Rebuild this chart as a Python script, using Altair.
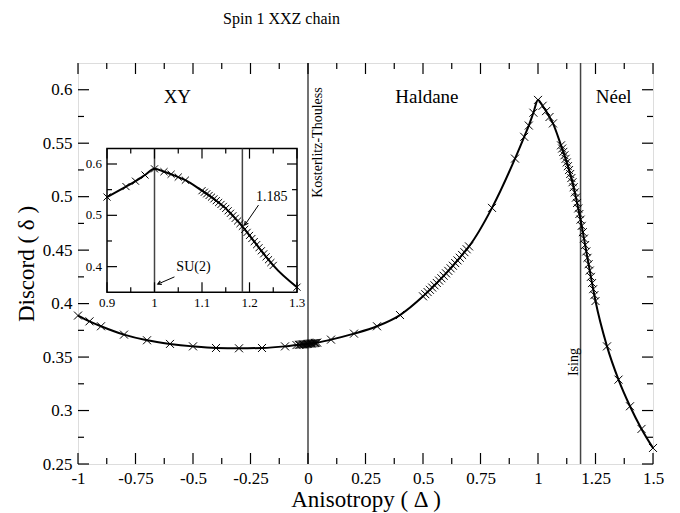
import altair as alt
import pandas as pd

FONT = "Liberation Serif"
TITLE = "Spin 1 XXZ chain"

# ---------------- data ----------------
anis = [-1.0, -0.95, -0.9, -0.8, -0.7, -0.6, -0.5, -0.4, -0.3, -0.2, -0.1, -0.05,
        -0.04, -0.035, -0.03, -0.025, -0.02, -0.015, -0.01, -0.005, 0.0,
        0.005, 0.01, 0.015, 0.02, 0.025, 0.03, 0.035, 0.04,
        0.1, 0.2, 0.3, 0.4, 0.5,
        0.51, 0.52, 0.53, 0.54, 0.55, 0.56, 0.57, 0.58, 0.59, 0.6,
        0.61, 0.62, 0.63, 0.64, 0.65, 0.66, 0.67, 0.68, 0.69, 0.7,
        0.8, 0.9, 0.94, 0.96, 0.98, 1.0, 1.02, 1.035, 1.05, 1.065,
        1.1, 1.105, 1.11, 1.115, 1.12, 1.125, 1.13, 1.135, 1.14, 1.145,
        1.15, 1.155, 1.16, 1.165, 1.17, 1.175, 1.18, 1.185, 1.19, 1.195,
        1.2, 1.205, 1.21, 1.215, 1.22, 1.225, 1.23, 1.235, 1.24, 1.245, 1.25,
        1.3, 1.35, 1.4, 1.45, 1.5]
disc = [0.3888, 0.3834, 0.3788, 0.3710, 0.3657, 0.3623, 0.3600, 0.3585, 0.3582, 0.3585, 0.3600, 0.3612,
        0.3614, 0.3615, 0.3617, 0.3618, 0.3619, 0.3620, 0.3621, 0.3622, 0.3623,
        0.3625, 0.3626, 0.3627, 0.3629, 0.3630, 0.3632, 0.3633, 0.3635,
        0.3663, 0.3719, 0.3788, 0.3893, 0.4068,
        0.4088, 0.4108, 0.4129, 0.4150, 0.4171, 0.4193, 0.4215, 0.4237, 0.4260, 0.4283,
        0.4306, 0.4330, 0.4354, 0.4379, 0.4404, 0.4429, 0.4455, 0.4481, 0.4508, 0.4535,
        0.4895, 0.5356, 0.5560, 0.5665, 0.5785, 0.5905, 0.5850, 0.5800, 0.5745, 0.5685,
        0.5480, 0.5450, 0.5419, 0.5387, 0.5354, 0.5320, 0.5285, 0.5249, 0.5212, 0.5174,
        0.5135, 0.5088, 0.5040, 0.4991, 0.4941, 0.4890, 0.4838, 0.4785, 0.4727, 0.4668,
        0.4608, 0.4548, 0.4488, 0.4428, 0.4368, 0.4309, 0.4250, 0.4192, 0.4135, 0.4079, 0.4024,
        0.3600, 0.3289, 0.3040, 0.2828, 0.2650]

phase_names = ["XY", "Haldane", "Néel"]
phase_x = [-0.568, 0.517, 1.329]
phase_y = [0.593, 0.593, 0.593]

trans_names = ["Kosterlitz-Thouless", "Ising"]
trans_x = [0.0, 1.185]
trans_label_x = [0.045, 1.155]
trans_label_y = [0.5506, 0.3453]

x_major = [-1, -0.75, -0.5, -0.25, 0, 0.25, 0.5, 0.75, 1, 1.25, 1.5]
x_minor = [-0.875, -0.625, -0.375, -0.125, 0.125, 0.375, 0.625, 0.875, 1.125, 1.375]
y_major = [0.25, 0.3, 0.35, 0.4, 0.45, 0.5, 0.55, 0.6]
y_minor = [0.275, 0.325, 0.375, 0.425, 0.475, 0.525, 0.575]

# inset
inset_xd = [0.9, 1.3]
inset_yd = [0.35, 0.63]
inset_lines = [1.0, 1.185]
inset_x_major = [0.9, 1.0, 1.1, 1.2, 1.3]
inset_x_labels = ["0.9", "1", "1.1", "1.2", "1.3"]
inset_x_minor = [0.95, 1.05, 1.15, 1.25]
inset_y_major = [0.4, 0.5, 0.6]
inset_y_labels = ["0.4", "0.5", "0.6"]
inset_y_minor = [0.45, 0.55]
note_text = ["1.185", "SU(2)"]
note_x = [1.247, 1.082]
note_y = [0.535, 0.400]
arrow_x0 = [1.219, 1.042]
arrow_y0 = [0.520, 0.380]
arrow_x1 = [1.190, 1.007]
arrow_y1 = [0.481, 0.366]
arrow_angle = [215, 246]

# ---------------- layout ----------------
W, H = 575, 401
IX0, IX1, IYB, IYT = 29, 219, 229.3, 85.6


def xs():
    return alt.Scale(domain=[-1, 1.5], range=[0, W], nice=False, zero=False)


def ys():
    return alt.Scale(domain=[0.25, 0.625], range=[H, 0], nice=False, zero=False)


def xi():
    return alt.Scale(domain=inset_xd, range=[IX0, IX1], nice=False, zero=False)


def yi():
    return alt.Scale(domain=inset_yd, range=[IYB, IYT], nice=False, zero=False)


CROSS = "M-1,-1L1,1M-1,1L1,-1"
HEAD = "M-0.55,1L0,0L0.55,1"
LINEC = "#444444"

df = pd.DataFrame({"anisotropy": anis, "discord": disc})

# ---------------- main panel ----------------
xaxis = alt.Axis(values=x_major, labelExpr="toString(datum.value)", ticks=False, domain=False,
                 grid=False, labelFont=FONT, labelFontSize=17, labelPadding=6, labelColor="black",
                 title="Anisotropy ( Δ )", titleFont=FONT, titleFontSize=23, titleFontWeight="normal",
                 titlePadding=2, titleColor="black", orient="bottom", labelFlush=False,
                 labelOverlap=False)
yaxis = alt.Axis(values=y_major, labelExpr="toString(datum.value)", ticks=False, domain=False,
                 grid=False, labelFont=FONT, labelFontSize=17, labelPadding=6, labelColor="black",
                 title="Discord ( δ )", titleFont=FONT, titleFontSize=23, titleFontWeight="normal",
                 titlePadding=4, titleColor="black", orient="left", labelFlush=False,
                 labelOverlap=False)

vlines = alt.Chart(pd.DataFrame({"x": trans_x})).mark_rule(color=LINEC, strokeWidth=1.5).encode(
    x=alt.X("x:Q", scale=xs(), axis=None))

line = alt.Chart(df).mark_line(color="black", strokeWidth=2, interpolate="monotone").encode(
    x=alt.X("anisotropy:Q", scale=xs(), axis=xaxis),
    y=alt.Y("discord:Q", scale=ys(), axis=yaxis))

pts = alt.Chart(df).mark_point(shape=CROSS, size=64, color="black", strokeWidth=1, filled=False,
                               opacity=1).encode(
    x=alt.X("anisotropy:Q", scale=xs(), axis=None),
    y=alt.Y("discord:Q", scale=ys(), axis=None))


def xticks(vals, scale, ybase, length, up=True):
    d = pd.DataFrame({"v": vals})
    y2 = ybase - length if up else ybase + length
    return alt.Chart(d).mark_rule(color="black", strokeWidth=1.2).encode(
        x=alt.X("v:Q", scale=scale, axis=None), y=alt.value(ybase), y2=alt.value(y2))


def yticks(vals, scale, xbase, length, right=True):
    d = pd.DataFrame({"v": vals})
    x2 = xbase + length if right else xbase - length
    return alt.Chart(d).mark_rule(color="black", strokeWidth=1.2).encode(
        y=alt.Y("v:Q", scale=scale, axis=None), x=alt.value(xbase), x2=alt.value(x2))


main_ticks = [
    xticks(x_major, xs(), H, 11), xticks(x_minor, xs(), H, 6),
    xticks(x_major, xs(), 0, 11, up=False), xticks(x_minor, xs(), 0, 6, up=False),
    yticks(y_major, ys(), 0, 11), yticks(y_minor, ys(), 0, 6),
    yticks(y_major, ys(), W, 11, right=False), yticks(y_minor, ys(), W, 6, right=False),
]

phase_txt = alt.Chart(pd.DataFrame({"t": phase_names, "x": phase_x, "y": phase_y})).mark_text(
    font=FONT, fontSize=19, color="black", baseline="middle").encode(
    x=alt.X("x:Q", scale=xs(), axis=None), y=alt.Y("y:Q", scale=ys(), axis=None), text="t:N")

trans_txt = alt.Chart(pd.DataFrame({"t": trans_names, "x": trans_label_x, "y": trans_label_y})).mark_text(
    font=FONT, fontSize=14, color="black", baseline="middle", angle=270).encode(
    x=alt.X("x:Q", scale=xs(), axis=None), y=alt.Y("y:Q", scale=ys(), axis=None), text="t:N")

# ---------------- inset ----------------
frame = alt.Chart(pd.DataFrame({"x0": [inset_xd[0]], "x1": [inset_xd[1]],
                                "y0": [inset_yd[0]], "y1": [inset_yd[1]]})).mark_rect(
    fill="white", stroke="black", strokeWidth=1.5).encode(
    x=alt.X("x0:Q", scale=xi(), axis=None), x2="x1:Q",
    y=alt.Y("y0:Q", scale=yi(), axis=None), y2="y1:Q")

ivl = alt.Chart(pd.DataFrame({"x": inset_lines})).mark_rule(color=LINEC, strokeWidth=1.5).encode(
    x=alt.X("x:Q", scale=xi(), axis=None), y=alt.value(IYB), y2=alt.value(IYT))

idf = alt.Chart(df).transform_filter("datum.anisotropy >= 0.9 && datum.anisotropy <= 1.3")
iline = idf.mark_line(color="black", strokeWidth=2, interpolate="monotone").encode(
    x=alt.X("anisotropy:Q", scale=xi(), axis=None), y=alt.Y("discord:Q", scale=yi(), axis=None))
ipts = idf.mark_point(shape=CROSS, size=50, color="black", strokeWidth=1, filled=False, opacity=1).encode(
    x=alt.X("anisotropy:Q", scale=xi(), axis=None), y=alt.Y("discord:Q", scale=yi(), axis=None))

inset_ticks = [
    xticks(inset_x_major, xi(), IYB, 10), xticks(inset_x_minor, xi(), IYB, 5),
    xticks(inset_x_major, xi(), IYT, 10, up=False), xticks(inset_x_minor, xi(), IYT, 5, up=False),
    yticks(inset_y_major, yi(), IX0, 10), yticks(inset_y_minor, yi(), IX0, 5),
    yticks(inset_y_major, yi(), IX1, 10, right=False), yticks(inset_y_minor, yi(), IX1, 5, right=False),
]

ixlab = alt.Chart(pd.DataFrame({"v": inset_x_major, "t": inset_x_labels})).mark_text(
    font=FONT, fontSize=13, color="black", baseline="middle").encode(
    x=alt.X("v:Q", scale=xi(), axis=None), y=alt.value(IYB + 11), text="t:N")
iylab = alt.Chart(pd.DataFrame({"v": inset_y_major, "t": inset_y_labels})).mark_text(
    font=FONT, fontSize=13, color="black", baseline="middle", align="right").encode(
    y=alt.Y("v:Q", scale=yi(), axis=None), x=alt.value(IX0 - 5), text="t:N")

notes = alt.Chart(pd.DataFrame({"t": note_text, "x": note_x, "y": note_y})).mark_text(
    font=FONT, fontSize=14, color="black", baseline="middle").encode(
    x=alt.X("x:Q", scale=xi(), axis=None), y=alt.Y("y:Q", scale=yi(), axis=None), text="t:N")

adf = pd.DataFrame({"x0": arrow_x0, "y0": arrow_y0, "x1": arrow_x1, "y1": arrow_y1, "a": arrow_angle})
shafts = alt.Chart(adf).mark_rule(color="black", strokeWidth=1).encode(
    x=alt.X("x0:Q", scale=xi(), axis=None), x2="x1:Q",
    y=alt.Y("y0:Q", scale=yi(), axis=None), y2="y1:Q")
heads = alt.Chart(adf).mark_point(shape=HEAD, size=50, color="black", strokeWidth=1.2,
                                  filled=False, opacity=1).encode(
    x=alt.X("x1:Q", scale=xi(), axis=None), y=alt.Y("y1:Q", scale=yi(), axis=None),
    angle=alt.Angle("a:Q", scale=None))

chart = alt.layer(
    vlines, line, pts, *main_ticks, phase_txt, trans_txt,
    frame, ivl, iline, ipts, *inset_ticks, ixlab, iylab, notes, shafts, heads
).resolve_scale(x="independent", y="independent").properties(
    width=W, height=H,
    title=alt.TitleParams(TITLE, font=FONT, fontSize=16, fontWeight="normal", color="black",
                          anchor="middle", dx=-84, offset=35),
    autosize=alt.AutoSizeParams(type="none"),
    padding={"left": 70, "top": 55, "right": 19, "bottom": 49},
).configure_view(stroke="black", strokeWidth=1.5).configure(background="white")

chart.save("out.html", embed_options={"renderer": "svg", "actions": False})
